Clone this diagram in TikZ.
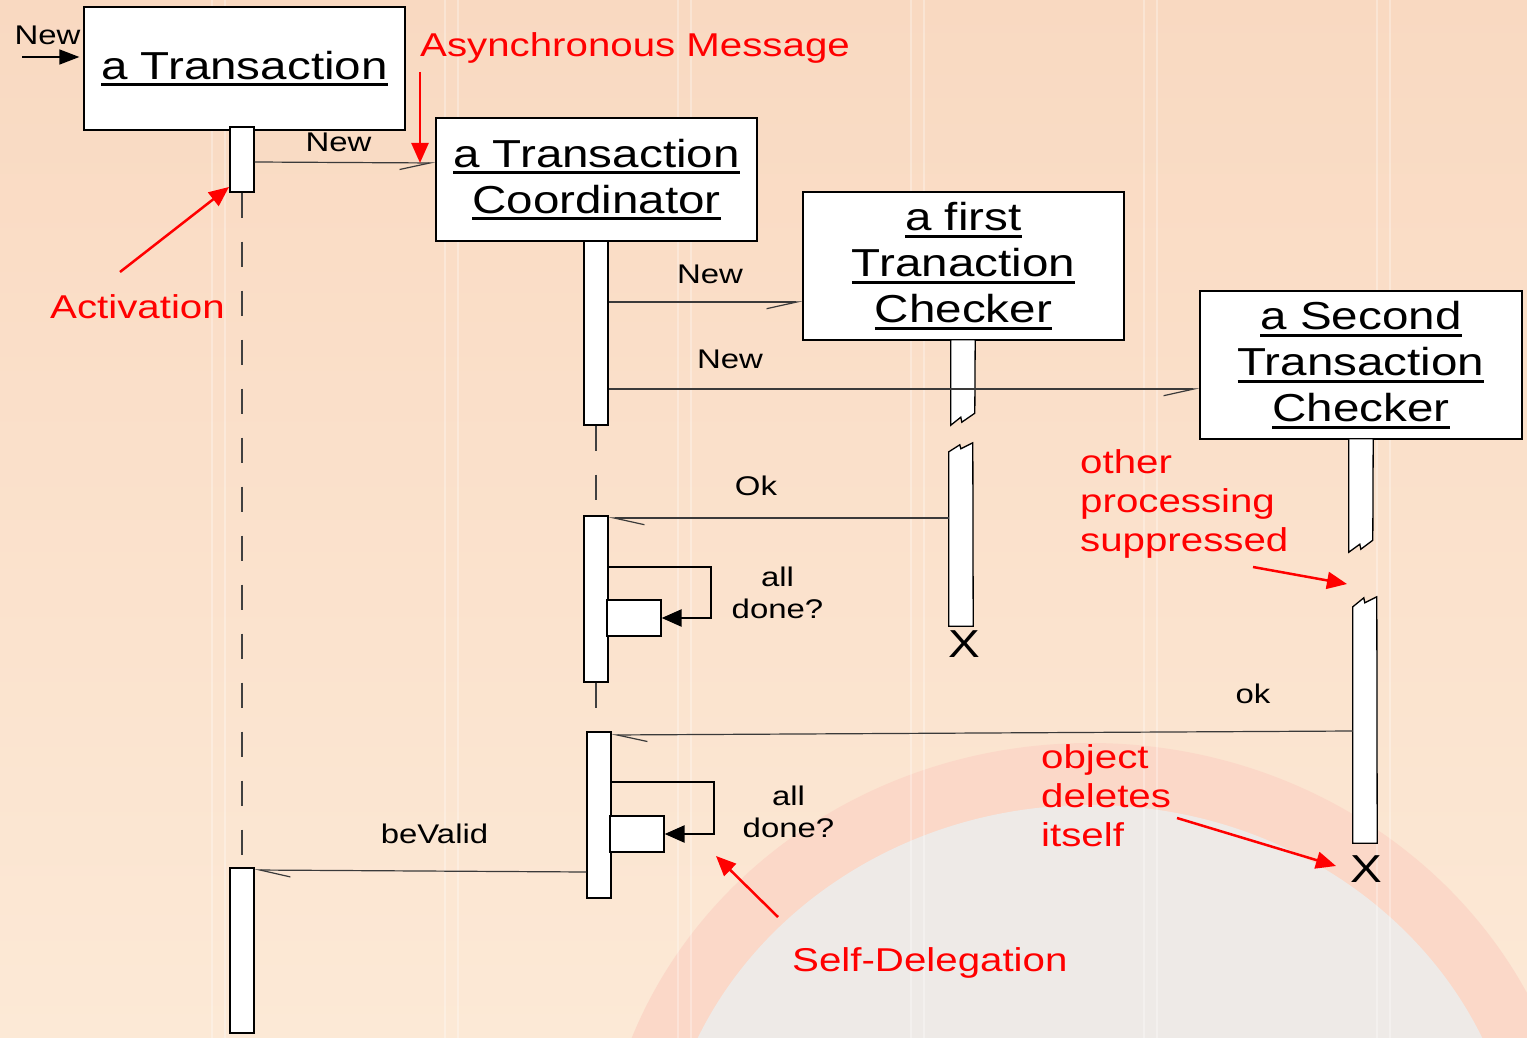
\documentclass[tikz,border=0pt]{standalone}
\usepackage{fontspec}
\setmainfont[FakeStretch=1.22]{Liberation Sans}
\usetikzlibrary{arrows.meta,calc}

\definecolor{bgtop}{HTML}{F9D9C1}
\definecolor{bgbot}{HTML}{FCE9D6}
\definecolor{ringpink}{HTML}{FBD8C8}
\definecolor{ringcore}{HTML}{EEEAE7}
\definecolor{msggrey}{HTML}{3A3A3A}
\definecolor{notered}{HTML}{FF0000}

% underlined object name with a heavy rule
\newcommand\objname[1]{\setbox0\hbox{#1}\rlap{\vrule width\wd0 height -4pt depth 7pt}\box0}

\begin{document}
\begin{tikzpicture}[x=1pt,y=-1pt,
  objbox/.style={draw=black, line width=1.3pt, fill=white, inner sep=0pt, align=center,
                 font=\fontsize{39}{46}\selectfont},
  bar/.style={draw=black, line width=1.3pt, fill=white, inner sep=0pt, minimum width=24pt},
  ghost/.style={inner sep=0pt, minimum width=24pt},
  barline/.style={draw=black, line width=1.3pt, fill=white, line join=miter},
  lifeline/.style={draw=black!75, line width=1.3pt, dash pattern=on 25pt off 24pt},
  % asynchronous messages: half stick head, barb always below the line
  msgright/.style={draw=msggrey, line width=1.2pt,
              -{Straight Barb[harpoon,swap,angle=25:31pt]}},
  msgleft/.style={draw=msggrey, line width=1.2pt,
              -{Straight Barb[harpoon,angle=25:31pt]}},
  found/.style={draw=black, line width=1.5pt, -{Triangle[length=20pt,width=15pt]}, shorten >=4pt},
  selfcall/.style={draw=black, line width=2.5pt, -{Triangle[length=20pt,width=17pt]}},
  redarrow/.style={draw=notered, line width=2.5pt, -{Triangle[length=20pt,width=17pt]}},
  lbl/.style={font=\fontsize{27}{32}\selectfont, inner sep=0pt, align=center},
  note/.style={text=notered, font=\fontsize{33}{39}\selectfont, inner sep=0pt, align=left},
  xmark/.style={font=\fontsize{39}{39}\selectfont, inner sep=0pt}
]
\useasboundingbox (0,0) rectangle (1527,1038);

% ---------- background ----------
\shade[top color=bgtop, bottom color=bgbot] (0,0) rectangle (1527,1038);
\begin{scope}
  \clip (0,0) rectangle (1527,1038);
  \fill[ringpink] (1090,1200) ellipse [x radius=490, y radius=457];
  \fill[ringcore] (1090,1200) ellipse [x radius=430, y radius=395];
  \foreach \sx in {212,445,678,911,1144,1377}{
    \draw[white, opacity=0.3, line width=2pt] (\sx,0) -- (\sx,1038);
    \draw[white, opacity=0.3, line width=2pt] (\sx+13,0) -- (\sx+13,1038);
  }
\end{scope}

% ---------- objects ----------
\node[objbox, minimum width=321pt, minimum height=123pt] (tA) at (244.5,68.5)
  {\objname{a Transaction}};
\node[objbox, minimum width=321pt, minimum height=123pt] (tB) at (596.5,179.5)
  {\objname{a Transaction}\\\objname{Coordinator}};
\node[objbox, minimum width=321pt, minimum height=148pt] (tC) at (963.5,266)
  {\objname{a first}\\\objname{Tranaction}\\\objname{Checker}};
\node[objbox, minimum width=322pt, minimum height=148pt] (tD) at (1361,365)
  {\objname{a Second}\\\objname{Transaction}\\\objname{Checker}};

% ---------- activation bars ----------
\node[bar, minimum height=65pt]  (a1) at (242,159.5) {};
\node[bar, minimum height=165pt] (a2) at (242,950.5) {};
\coordinate (bEnd) at (596,709);
\draw[lifeline] (a1.south) -- (a2.north);
\node[bar, minimum height=184pt] (b1) at (596,333) {};
\node[bar, minimum height=166pt] (b2) at (596,599) {};
\draw[lifeline] (b1.south) -- (b2.north);
\draw[lifeline] (b2.south) -- (bEnd);
\node[bar, minimum height=166pt] (b3) at (599,815) {};
\node[bar, minimum width=54pt, minimum height=36pt] (s1) at (634,618) {};
\node[bar, minimum width=54pt, minimum height=36pt] (s2) at (637,834) {};

% broken bars (activity suppressed between the pieces)
\node[ghost, minimum height=85pt]  (c1) at (963,382.5) {};
\node[ghost, minimum height=174pt] (c2) at (961,539) {};
\node[ghost, minimum height=113pt] (d1) at (1361,495.5) {};
\node[ghost, minimum height=236pt] (d2) at (1365,725) {};
\draw[barline] (c1.north west) -- (c1.south west) -- ++(10,-8) -- ++(1,5) -- ++(13,-9)
  -- (c1.north east) -- cycle;
\draw[barline] (c2.south west) -- (c2.north west) -- ++(11,-7) -- ++(1,4) -- ++(12,-6)
  -- (c2.south east) -- cycle;
\draw[barline] (d1.north west) -- (d1.south west) -- ++(11,-8) -- ++(1,5) -- ++(12,-9)
  -- (d1.north east) -- cycle;
\draw[barline] (d2.south west) -- (d2.north west) -- ++(11,-9) -- ++(1,5) -- ++(12,-6)
  -- (d2.south east) -- cycle;

% ---------- messages ----------
\coordinate (newsrc) at (22,57);
\draw[found] (newsrc) -- (tA.west |- newsrc);
\node[lbl, anchor=base] (lNew0) at (47.5,45) {New};

\draw[msgright] (a1.east |- 0,162) -- (tB.west |- 0,163);
\node[lbl, anchor=base] (lNew1) at (338.5,152) {New};

\draw[msgright] (b1.east |- 0,302) -- (tC.west |- 0,302);
\node[lbl, anchor=base] (lNew2) at (710,283) {New};

\draw[msgright] (b1.east |- 0,389) -- (tD.west |- 0,389);
\node[lbl, anchor=base] (lNew3) at (730,368) {New};

\draw[msgleft] (c2.west |- 0,518) -- (b2.east |- 0,518);
\node[lbl, anchor=base] (lOk) at (756,495) {Ok};

\draw[selfcall] (b2.east |- 0,567) -- (711,567) |- (s1.east);
\node[lbl, anchor=north] (lDone1) at (777.5,566.7) {all\\done?};

\draw[msgleft] (d2.west |- 0,731) -- (b3.east |- 0,735);
\node[lbl, anchor=base] (lok) at (1253,703) {ok};

\draw[selfcall] (b3.east |- 0,782) -- (714,782) |- (s2.east);
\node[lbl, anchor=north] (lDone2) at (788.5,785.7) {all\\done?};

\draw[msgleft] (b3.west |- 0,872) -- (a2.east |- 0,870);
\node[lbl, anchor=base] (lValid) at (434.5,843) {beValid};

% object destruction
\node[xmark, anchor=base] (x1) at (964,657) {X};
\node[xmark, anchor=base] (x2) at (1366,882) {X};

% ---------- annotations ----------
\node[note, anchor=base west] (nAsync) at (420,57) {Asynchronous Message};
\coordinate (asyT) at (420,72);
\coordinate (asyH) at (420,163);
\draw[redarrow] (asyT) -- (asyH);

\node[note, anchor=base west] (nAct) at (50,318) {Activation};
\coordinate (actT) at (120,272);
\coordinate (actH) at (229,187);
\draw[redarrow] (actT) -- (actH);

\node[note, anchor=north west] (nSupp) at (1080,449.4) {other\\processing\\suppressed};
\coordinate (supT) at (1253,567);
\coordinate (supH) at (1347,584);
\draw[redarrow] (supT) -- (supH);

\node[note, anchor=north west] (nDel) at (1041,744.4) {object\\deletes\\itself};
\coordinate (delT) at (1177,818);
\coordinate (delH) at (1336,866);
\draw[redarrow] (delT) -- (delH);

\node[note, anchor=base west] (nSelf) at (792,971) {Self-Delegation};
\coordinate (selT) at (778,917);
\coordinate (selH) at (716,856);
\draw[redarrow] (selT) -- (selH);

\end{tikzpicture}
\end{document}
